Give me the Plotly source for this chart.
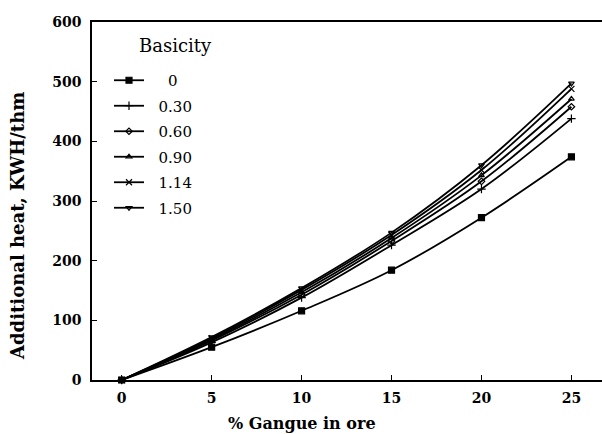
import plotly.graph_objects as go

gangue = [0, 5, 10, 15, 20, 25]
basicity = ["0", "0.30", "0.60", "0.90", "1.14", "1.50"]
heat_b000 = [0, 55, 116, 184, 272, 374]
heat_b030 = [0, 63, 138, 226, 320, 438]
heat_b060 = [0, 66, 143, 233, 333, 458]
heat_b090 = [0, 68, 147, 238, 343, 471]
heat_b114 = [0, 70, 151, 243, 352, 488]
heat_b150 = [0, 72, 154, 247, 360, 497]
series = [heat_b000, heat_b030, heat_b060, heat_b090, heat_b114, heat_b150]

symbols = ["square", "cross-thin", "diamond-open", "triangle-up-open", "x-thin", "triangle-down-open"]
sizes = [6, 6, 5, 5, 6, 5]
pad = ["\u00a0\u00a0", "", "", "", "", ""]

FONT = "DejaVu Serif"
L, R, T, B = 92, 602, 22, 380
W, H = R - L, B - T

fig = go.Figure()
for i, (b, ys) in enumerate(zip(basicity, series)):
    fig.add_trace(go.Scatter(
        x=gangue, y=ys, mode="lines+markers", name="\u00a0\u00a0" + pad[i] + b,
        line=dict(color="black", width=1.8, shape="spline"),
        marker=dict(symbol=symbols[i], size=sizes[i], color="black",
                    line=dict(color="black", width=1.2)),
        legendgroup=f"g{i}", cliponaxis=False,
    ))

fig.update_layout(
    width=602, height=434,
    margin=dict(l=L, r=602 - R, t=T, b=434 - B, autoexpand=False),
    paper_bgcolor="white", plot_bgcolor="white",
    font=dict(family=FONT, size=14, color="black"),
    showlegend=True,
    legend=dict(x=(130 - 21 - L) / W, y=(B - 64) / H, xanchor="left", yanchor="top",
                traceorder="grouped", tracegroupgap=3,
                font=dict(family=FONT, size=15, color="black"),
                bgcolor="rgba(0,0,0,0)", itemwidth=30),
    xaxis=dict(range=[-1.65, 26.7], tickvals=[0, 5, 10, 15, 20, 25],
               showline=True, linecolor="black", linewidth=1.5, mirror=True,
               ticks="inside", ticklen=5, tickcolor="black", showgrid=False, zeroline=False,
               automargin=False, ticklabelstandoff=4,
               tickfont=dict(family=FONT, size=14, weight="bold")),
    yaxis=dict(range=[0, 600], tickvals=[0, 100, 200, 300, 400, 500, 600],
               showline=True, linecolor="black", linewidth=1.5,
               ticks="inside", ticklen=5, tickcolor="black", showgrid=False, zeroline=False,
               automargin=False, ticklabelstandoff=6,
               tickfont=dict(family=FONT, size=14, weight="bold")),
    annotations=[
        dict(text="Basicity", x=(137 - L) / W, y=(B - 45) / H, xref="paper", yref="paper",
             showarrow=False, xanchor="left", yanchor="middle",
             font=dict(family=FONT, size=18)),
        dict(text="% Gangue in ore", x=(302 - L) / W, y=(B - 423) / H, xref="paper", yref="paper",
             showarrow=False, xanchor="center", yanchor="middle",
             font=dict(family=FONT, size=16, weight="bold")),
        dict(text="Additional heat, KWH/thm", x=(18 - L) / W, y=(B - 226) / H, xref="paper", yref="paper",
             showarrow=False, xanchor="center", yanchor="middle", textangle=-90,
             font=dict(family=FONT, size=18, weight="bold")),
    ],
)
fig.write_html("out.html", config={"displayModeBar": False},
               post_script="document.body.style.margin='0';document.body.style.overflow='hidden';")
